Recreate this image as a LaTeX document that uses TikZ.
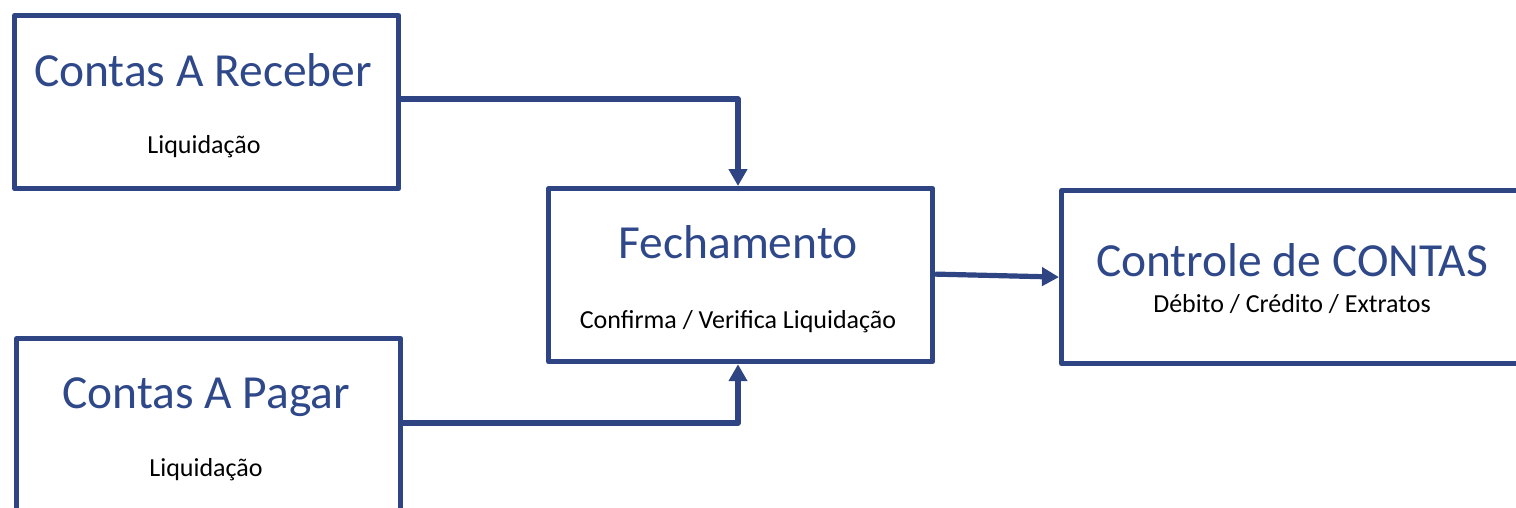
\documentclass[tikz,border=0pt]{standalone}
\usepackage{fontspec}
\setmainfont{Carlito}
\usetikzlibrary{arrows.meta}
\definecolor{flowblue}{RGB}{47,68,131}
\definecolor{titleblue}{RGB}{47,72,138}
\begin{document}
\begin{tikzpicture}[x=1pt,y=-1pt,
  boxstyle/.style={draw=flowblue,line width=5.2pt,line join=round,minimum width=384pt,minimum height=173pt,inner sep=0pt,anchor=north west},
  titletext/.style={font=\fontsize{47.5}{50}\selectfont,text=titleblue,anchor=base,inner sep=0pt},
  subtext/.style={font=\fontsize{26}{28}\selectfont,text=black,anchor=base,inner sep=0pt},
  flow/.style={draw=flowblue,line width=5.2pt,line join=round,-{Triangle[length=17pt,width=18pt]}}]
\useasboundingbox (0,0) rectangle (1516,507);
\node[boxstyle] (rec) at (12,13) {};
\node[boxstyle] (pag) at (14,336) {};
\node[boxstyle] (fec) at (546,186) {};
\node[boxstyle,minimum width=480pt] (con) at (1059,188) {};
\node[titletext] (rect) at (203,86) {Contas A Receber};
\node[subtext] (recs) at (204,153) {Liquidação};
\node[titletext] (pagt) at (206,408) {Contas A Pagar};
\node[subtext] (pags) at (206,476) {Liquidação};
\node[titletext] (fect) at (738,258) {Fechamento};
\node[subtext] (fecs) at (738,328) {Confirma / Verifica Liquidação};
\node[titletext] (cont) at (1292,276) {Controle de CONTAS};
\node[subtext] (cons) at (1292,312) {Débito / Crédito / Extratos};
\coordinate (rj) at (738,99);
\coordinate (pj) at (738,423);
\draw[flow] (rec.east |- rj) -- (rj) -- (fec.north -| rj);
\draw[flow] (pag.east |- pj) -- (pj) -- (fec.south -| pj);
\draw[flow] (fec.east) ++(0,-1) -- (con.west);
\end{tikzpicture}
\end{document}
